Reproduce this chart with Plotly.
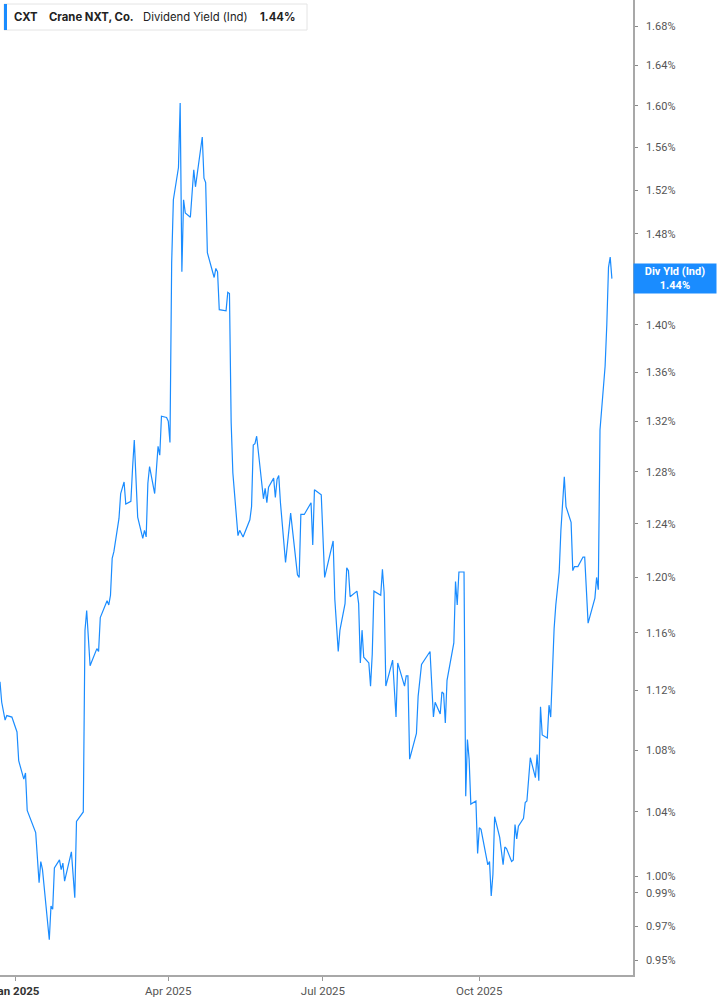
import math
import plotly.graph_objects as go

# CXT dividend yield (indicated), percent
dates = [
    "2024-12-23", "2024-12-24", "2024-12-26", "2024-12-27", "2024-12-30", "2024-12-31",
    "2025-01-02", "2025-01-03", "2025-01-06", "2025-01-07", "2025-01-08", "2025-01-13", "2025-01-15",
    "2025-01-16", "2025-01-17", "2025-01-21", "2025-01-22", "2025-01-23", "2025-01-24", "2025-01-27",
    "2025-01-28", "2025-01-29", "2025-01-30",
    "2025-02-03", "2025-02-05", "2025-02-06", "2025-02-10", "2025-02-11", "2025-02-12", "2025-02-14",
    "2025-02-18", "2025-02-19", "2025-02-20", "2025-02-24", "2025-02-25", "2025-02-26", "2025-02-27",
    "2025-02-28",
    "2025-03-03", "2025-03-04", "2025-03-06", "2025-03-07", "2025-03-10", "2025-03-11", "2025-03-12",
    "2025-03-14", "2025-03-17", "2025-03-18", "2025-03-19", "2025-03-20", "2025-03-21", "2025-03-24",
    "2025-03-26", "2025-03-27", "2025-03-28", "2025-03-31",
    "2025-04-01", "2025-04-02", "2025-04-03", "2025-04-04", "2025-04-07", "2025-04-08", "2025-04-09",
    "2025-04-10", "2025-04-11", "2025-04-14", "2025-04-16", "2025-04-17", "2025-04-21", "2025-04-22",
    "2025-04-23", "2025-04-24", "2025-04-28", "2025-04-29", "2025-04-30",
    "2025-05-01", "2025-05-05", "2025-05-06", "2025-05-07", "2025-05-08", "2025-05-09", "2025-05-12",
    "2025-05-13", "2025-05-15", "2025-05-19", "2025-05-20", "2025-05-21", "2025-05-22", "2025-05-23",
    "2025-05-27", "2025-05-28", "2025-05-29", "2025-05-30",
    "2025-06-02", "2025-06-03", "2025-06-04", "2025-06-05", "2025-06-06", "2025-06-09", "2025-06-12",
    "2025-06-16", "2025-06-17", "2025-06-18", "2025-06-20", "2025-06-24", "2025-06-25", "2025-06-26",
    "2025-06-30",
    "2025-07-02", "2025-07-07", "2025-07-08", "2025-07-10", "2025-07-11", "2025-07-14", "2025-07-15",
    "2025-07-16", "2025-07-17", "2025-07-21", "2025-07-22", "2025-07-23", "2025-07-24", "2025-07-25",
    "2025-07-28", "2025-07-29", "2025-07-30", "2025-07-31",
    "2025-08-04", "2025-08-05", "2025-08-06", "2025-08-07", "2025-08-11", "2025-08-13", "2025-08-14",
    "2025-08-18", "2025-08-19", "2025-08-20", "2025-08-21", "2025-08-25", "2025-08-26", "2025-08-28",
    "2025-09-02", "2025-09-04", "2025-09-05", "2025-09-08", "2025-09-09", "2025-09-10", "2025-09-11",
    "2025-09-12", "2025-09-15", "2025-09-16", "2025-09-17", "2025-09-18", "2025-09-19", "2025-09-22",
    "2025-09-23", "2025-09-24", "2025-09-25", "2025-09-26", "2025-09-29", "2025-09-30",
    "2025-10-01", "2025-10-02", "2025-10-06", "2025-10-07", "2025-10-08", "2025-10-09", "2025-10-10",
    "2025-10-13", "2025-10-15", "2025-10-16", "2025-10-17", "2025-10-20", "2025-10-21", "2025-10-22",
    "2025-10-23", "2025-10-24", "2025-10-27", "2025-10-28", "2025-10-29", "2025-10-31",
    "2025-11-03", "2025-11-04", "2025-11-05", "2025-11-06", "2025-11-07", "2025-11-10", "2025-11-11",
    "2025-11-12", "2025-11-14", "2025-11-15", "2025-11-17", "2025-11-18", "2025-11-20", "2025-11-21",
    "2025-11-24", "2025-11-25", "2025-11-26", "2025-11-28",
    "2025-12-01", "2025-12-02", "2025-12-04", "2025-12-08", "2025-12-09", "2025-12-10", "2025-12-11",
    "2025-12-14", "2025-12-15", "2025-12-16", "2025-12-17", "2025-12-18",
]

div_yield = [
    1.126, 1.112, 1.100, 1.103, 1.102, 1.099,
    1.092, 1.073, 1.061, 1.065, 1.041, 1.027, 0.996, 1.009, 1.004, 0.962, 0.982, 0.980, 1.005, 1.010,
    1.004, 1.008, 0.997,
    1.015, 0.987, 1.034, 1.040, 1.162, 1.176, 1.137, 1.149, 1.147, 1.171, 1.183, 1.180, 1.187, 1.214,
    1.219,
    1.244, 1.263, 1.272, 1.255, 1.257, 1.283, 1.305, 1.245, 1.229, 1.235, 1.230, 1.271, 1.284, 1.263,
    1.300, 1.293, 1.324, 1.323,
    1.320, 1.303, 1.454, 1.511, 1.541, 1.603, 1.446, 1.511, 1.499, 1.495, 1.539, 1.523, 1.570, 1.531,
    1.527, 1.463, 1.441, 1.449, 1.446,
    1.413, 1.412, 1.428, 1.427, 1.319, 1.279, 1.231, 1.235, 1.230, 1.243, 1.253, 1.301, 1.302, 1.308,
    1.259, 1.267, 1.256, 1.268,
    1.275, 1.260, 1.274, 1.277, 1.256, 1.211, 1.248, 1.202, 1.200, 1.247, 1.247, 1.256, 1.224, 1.266,
    1.262,
    1.200, 1.227, 1.184, 1.147, 1.162, 1.181, 1.207, 1.205, 1.186, 1.190, 1.181, 1.139, 1.162, 1.143,
    1.139, 1.123, 1.145, 1.190,
    1.187, 1.206, 1.189, 1.123, 1.141, 1.102, 1.139, 1.123, 1.130, 1.130, 1.074, 1.091, 1.116, 1.138,
    1.147, 1.102, 1.112, 1.104, 1.119, 1.118, 1.098, 1.127, 1.145, 1.153, 1.197, 1.180, 1.204, 1.204,
    1.050, 1.087, 1.074, 1.045, 1.047, 1.014,
    1.030, 1.029, 1.007, 1.009, 0.988, 1.001, 1.037, 1.024, 1.007, 1.018, 1.017, 1.009, 1.010, 1.032,
    1.023, 1.031, 1.036, 1.046, 1.047, 1.075,
    1.062, 1.077, 1.060, 1.109, 1.090, 1.088, 1.110, 1.102, 1.163, 1.180, 1.204, 1.235, 1.276, 1.253,
    1.241, 1.205, 1.208, 1.208,
    1.215, 1.215, 1.167, 1.185, 1.200, 1.191, 1.313, 1.365, 1.400, 1.450, 1.459, 1.440,
]

# 1.44% sits under the last-value tag, so it is left out
y_ticks = [0.95, 0.97, 0.99, 1.00, 1.04, 1.08, 1.12, 1.16, 1.20, 1.24, 1.28, 1.32, 1.36, 1.40,
           1.48, 1.52, 1.56, 1.60, 1.64, 1.68]
x_ticks = ["2025-01-01", "2025-04-01", "2025-07-01", "2025-10-01"]
x_labels = ["<b><span style='color:#333'>Jan 2025</span></b>", "Apr 2025", "Jul 2025", "Oct 2025"]

BLUE = "#1a8cff"
W, H = 717, 1005
PLOT_W, PLOT_H = 633, 975


def px(x):
    return x / PLOT_W


def py(y):
    return 1 - y / PLOT_H


fig = go.Figure()
fig.add_trace(go.Scatter(x=dates, y=div_yield, mode="lines",
                         line=dict(color=BLUE, width=1.2), showlegend=False))

fig.update_layout(
    width=W, height=H,
    margin=dict(l=0, r=W - PLOT_W, t=0, b=H - PLOT_H),
    paper_bgcolor="white", plot_bgcolor="white",
    font=dict(family="Roboto", color="#555"),
)

fig.update_xaxes(
    range=["2024-12-23", "2025-12-30 10:00"],
    tickvals=x_ticks, ticktext=x_labels,
    showgrid=False, zeroline=False, automargin=False,
    showline=True, linecolor="#a8a8a8", linewidth=1.5,
    ticks="outside", ticklen=4, tickcolor="#999",
    tickfont=dict(size=11.5, color="#555"),
    ticklabeloverflow="allow",
)

fig.update_yaxes(
    type="log", side="right",
    range=[math.log10(0.9415), math.log10(1.7069)],
    tickvals=y_ticks, ticktext=[f"{v:.2f}%" for v in y_ticks],
    showgrid=False, zeroline=False, automargin=False,
    showline=True, linecolor="#a8a8a8", linewidth=1.5,
    ticks="outside", ticklen=3, tickcolor="#888",
    tickfont=dict(size=11, color="#555"),
    ticklabelstandoff=6,
)

# header box
fig.add_shape(type="rect", xref="paper", yref="paper",
              x0=px(4), x1=px(307), y0=py(30), y1=py(4),
              line=dict(color="#e4e4e4", width=1), fillcolor="white")
fig.add_shape(type="rect", xref="paper", yref="paper",
              x0=px(4), x1=px(7), y0=py(30), y1=py(4),
              line=dict(width=0), fillcolor=BLUE)

head = [("<b>CXT</b>", 12), ("<b>Crane NXT, Co.</b>", 47),
        ("Dividend Yield (Ind)", 141), ("<b>1.44%</b>", 258)]
for txt, x in head:
    fig.add_annotation(text=txt, xref="paper", yref="paper", x=px(x), y=py(17),
                       xanchor="left", yanchor="middle", showarrow=False,
                       font=dict(family="Inter", size=11.3, color="#222"))

# last value tag on the right axis
last = div_yield[-1]
fig.add_annotation(text=f"<b>Div Yld (Ind)</b><br><b>{last:.2f}%</b>",
                   xref="paper", yref="y", x=1, y=math.log10(last),
                   xanchor="left", yanchor="middle", showarrow=False,
                   width=W - PLOT_W - 2, height=29, bgcolor=BLUE, borderpad=0,
                   align="center", font=dict(family="Roboto", size=11, color="white"))

fig.write_html("out.html", config={"displayModeBar": False},
               post_script="document.body.style.margin='0px';")
